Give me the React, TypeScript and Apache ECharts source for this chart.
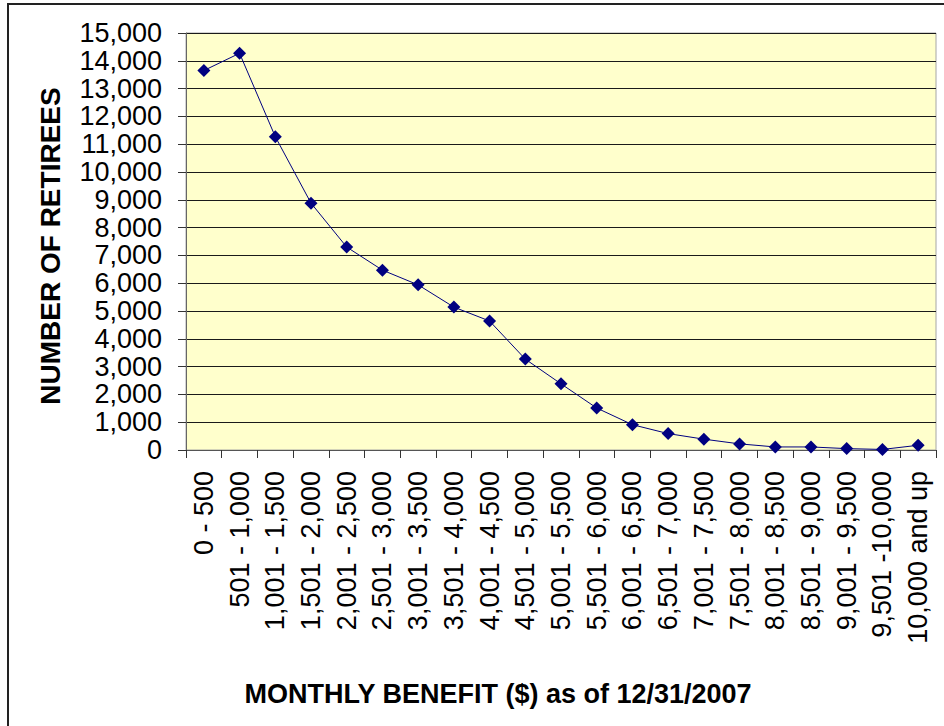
import React, { useEffect, useRef } from "react";
import * as echarts from "echarts";

const categories = [
  "0 - 500",
  "501 - 1,000",
  "1,001 - 1,500",
  "1,501 - 2,000",
  "2,001 - 2,500",
  "2,501 - 3,000",
  "3,001 - 3,500",
  "3,501 - 4,000",
  "4,001 - 4,500",
  "4,501 - 5,000",
  "5,001 - 5,500",
  "5,501 - 6,000",
  "6,001 - 6,500",
  "6,501 - 7,000",
  "7,001 - 7,500",
  "7,501 - 8,000",
  "8,001 - 8,500",
  "8,501 - 9,000",
  "9,001 - 9,500",
  "9,501 -10,000",
  "10,000 and up",
];

const retirees = [
  13650, 14270, 11270, 8880, 7300, 6470, 5940, 5140, 4640, 3270, 2380, 1510,
  910, 590, 390, 220, 110, 110, 50, 20, 170,
];

const yMin = 0;
const yMax = 15000;
const yInterval = 1000;

const xTitle = "MONTHLY BENEFIT ($) as of 12/31/2007";
const yTitle = "NUMBER OF RETIREES";

const FONT = "'Liberation Sans', Arial, Helvetica, sans-serif";

export default function App() {
  const ref = useRef<HTMLDivElement>(null);

  useEffect(() => {
    document.body.style.margin = "0";
    if (!ref.current) return;
    const chart = echarts.init(ref.current, undefined, { renderer: "svg" });
    chart.setOption({
      animation: false,
      backgroundColor: "#ffffff",
      grid: {
        left: 186,
        top: 33,
        right: 8,
        bottom: 276,
        show: true,
        backgroundColor: "#FFFFCC",
        borderColor: "#A6A6A6",
        borderWidth: 1,
      },
      xAxis: {
        type: "category",
        data: categories,
        boundaryGap: true,
        axisLine: { show: true, lineStyle: { color: "#555555", width: 1 } },
        axisTick: {
          show: true,
          alignWithLabel: false,
          length: 8,
          lineStyle: { color: "#333333" },
        },
        axisLabel: {
          rotate: 90,
          interval: 0,
          margin: 21,
          fontSize: 27,
          fontFamily: FONT,
          color: "#000000",
        },
        splitLine: { show: false },
      },
      yAxis: {
        type: "value",
        min: yMin,
        max: yMax,
        interval: yInterval,
        axisLine: { show: true, lineStyle: { color: "#666666", width: 1 } },
        axisTick: { show: true, length: 8, lineStyle: { color: "#333333" } },
        axisLabel: {
          margin: 24,
          fontSize: 27,
          fontFamily: FONT,
          color: "#000000",
          formatter: (v: number) => v.toLocaleString("en-US"),
        },
        splitLine: { show: true, lineStyle: { color: "#1a1a1a", width: 1 } },
      },
      series: [
        {
          type: "line",
          data: retirees,
          symbol: "diamond",
          symbolSize: 13,
          lineStyle: { color: "#000080", width: 1 },
          itemStyle: { color: "#000080" },
        },
      ],
      graphic: [
        {
          type: "rect",
          silent: true,
          shape: { x: 8, y: 4, width: 1000, height: 1000 },
          style: { fill: "none", stroke: "#222222", lineWidth: 2 },
        },
        {
          type: "text",
          x: 50,
          y: 246,
          rotation: Math.PI / 2,
          style: {
            text: yTitle,
            fontSize: 28,
            fontWeight: "bold",
            fontFamily: FONT,
            fill: "#000000",
            textAlign: "center",
            textVerticalAlign: "middle",
          },
        },
        {
          type: "text",
          x: 498,
          y: 694,
          style: {
            text: xTitle,
            fontSize: 27,
            fontWeight: "bold",
            fontFamily: FONT,
            fill: "#000000",
            textAlign: "center",
            textVerticalAlign: "middle",
          },
        },
      ],
    });
    return () => chart.dispose();
  }, []);

  return <div ref={ref} style={{ width: 944, height: 726 }} />;
}
